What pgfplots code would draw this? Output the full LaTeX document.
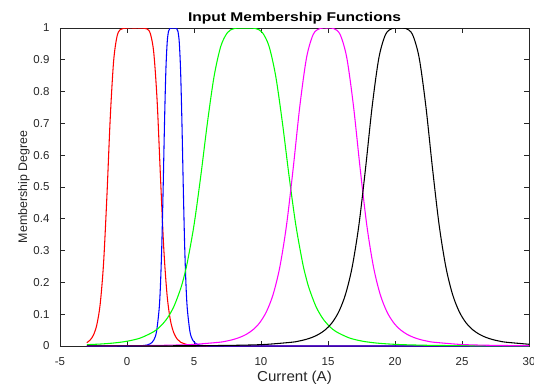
\documentclass[border=0pt]{standalone}
\usepackage{graphicx}
\usepackage{fontspec}
\setmainfont{Liberation Sans}
\usepackage{pgfplots}
\pgfplotsset{compat=1.18}
\definecolor{axgray}{HTML}{262626}
\definecolor{mfred}{rgb}{1,0,0}
\definecolor{mfblue}{rgb}{0,0,1}
\definecolor{mfgreen}{rgb}{0,1,0}
\definecolor{mfmagenta}{rgb}{1,0,1}
\definecolor{mfblack}{rgb}{0,0,0}

\begin{document}
\begin{tikzpicture}
\begin{axis}[
  name=ax,
  scale only axis,
  width=351.75pt, height=238.5pt,
  xmin=-5, xmax=30, ymin=0, ymax=1,
  xtick={-5,0,5,10,15,20,25,30},
  xticklabels={-5,0,5,10,15,20,25,30},
  ytick={0,0.1,0.2,0.3,0.4,0.5,0.6,0.7,0.8,0.9,1},
  yticklabels={0,0.1,0.2,0.3,0.4,0.5,0.6,0.7,0.8,0.9,1},
  tick align=inside,
  major tick length=3.75pt,
  tick style={axgray, line width=0.5pt},
  axis line style={axgray, line width=0.6pt},
  ticklabel style={font=\fontsize{8.6}{9.5}\selectfont, text=axgray},
  xticklabel style={anchor=north, yshift=-5.0pt},
  yticklabel style={anchor=east, xshift=-4.4pt},
  /pgf/number format/assume math mode=true,
  every axis title shift=0pt,
  title={\scalebox{1.23}[1]{\bfseries Input Membership Functions}},
  title style={at={(axis description cs:0.5,1.031)}, anchor=center,
    font=\fontsize{9.5}{11}\selectfont, text=black, inner sep=0pt},
  xlabel={\scalebox{1.05}[1]{Current (A)}},
  xlabel style={at={(axis description cs:0.5,-0.0985)}, anchor=center,
    font=\fontsize{10.8}{12}\selectfont, text=axgray, inner sep=0pt},
  ylabel={Membership Degree},
  ylabel style={at={(axis description cs:-0.0768,0.5)}, anchor=center,
    rotate=0, font=\fontsize{9.3}{11}\selectfont, text=axgray, inner sep=0pt},
  every axis plot/.append style={line width=0.8pt, smooth, mark=none},
]
% red set
\addplot[color=mfred] coordinates {
(-3,0.0105) (-2.75,0.0188) (-2.5,0.0348) (-2.25,0.0670) (-2,0.1323)
(-1.75,0.2596) (-1.5,0.4704) (-1.25,0.7175) (-1,0.8950) (-0.75,0.9726)
(-0.5,0.9951) (0,1.0000) (0.53,1) (1,1.0000) (1.5,0.9969) (1.75,0.9812)
(2,0.9215) (2.25,0.7697) (2.5,0.5302) (2.75,0.3026) (3,0.1560)
(3.25,0.0787) (3.5,0.0406) (3.75,0.0217) (4,0.0120) (4.5,0.0041)
(5,0.0016) (6,0.0003) (8,0) (30,0)
};
% blue set
\addplot[color=mfblue] coordinates {
(-3,0) (0,0.0001) (1,0.0008) (1.5,0.0032) (1.75,0.0073) (2,0.0188)
(2.2,0.0446) (2.4,0.1172) (2.5,0.1949) (2.6,0.3206) (2.7,0.5) (2.8,0.7023)
(2.9,0.8654) (3,0.9554) (3.1,0.9898) (3.2,0.9986) (3.45,1) (3.7,0.9986)
(3.8,0.9898) (3.9,0.9554) (4,0.8654) (4.1,0.7023) (4.2,0.5) (4.3,0.3206)
(4.4,0.1949) (4.5,0.1172) (4.7,0.0446) (4.9,0.0188) (5.15,0.0073)
(5.4,0.0032) (5.9,0.0008) (6.9,0.0001) (30,0)
};
% green set
\addplot[color=mfgreen] coordinates {
(-3,0.0042) (-2,0.0062) (-1,0.0094) (0,0.0150) (1,0.0252) (2,0.0452)
(2.5,0.0622) (3,0.0871) (3.5,0.1242) (4,0.1799) (4.25,0.2172)
(4.5,0.2624) (5,0.3800) (5.5,0.5328) (6,0.7015)
(6.5,0.8481) (7,0.9426) (7.5,0.9857) (8,0.9983) (8.8,1) (9.6,0.9983)
(10.1,0.9857) (10.6,0.9426) (11.1,0.8481) (11.6,0.7015) (12.1,0.5328)
(12.6,0.3800) (13.1,0.2624) (13.35,0.2172) (13.6,0.1799) (14.1,0.1242)
(14.6,0.0871) (15.1,0.0622) (15.6,0.0452)
(16.6,0.0252) (17.6,0.0150) (18.6,0.0094) (19.6,0.0062) (20.6,0.0042)
(22.6,0.0021) (24.6,0.0012) (26.6,0.0007) (28.6,0.0004) (30,0.0003)
};
% magenta set
\addplot[color=mfmagenta] coordinates {
(-3,0.0005) (0.9,0.0013) (2.9,0.0024) (4.9,0.0049) (6.9,0.0119)
(7.4,0.0153) (7.9,0.0201) (8.4,0.0269) (8.9,0.0367) (9.4,0.0511)
(9.9,0.0731) (10.4,0.1074) (10.9,0.1615)
(11.4,0.2474) (11.9,0.3784) (12.4,0.5580) (12.9,0.7550) (13.4,0.9069)
(13.9,0.9801) (14.4,0.9987) (14.9,1) (15.4,0.9987) (15.9,0.9801)
(16.4,0.9069) (16.9,0.7550) (17.4,0.5580) (17.9,0.3784) (18.4,0.2474)
(18.9,0.1615) (19.4,0.1074) (19.9,0.0731) (20.4,0.0511) (20.9,0.0367)
(21.4,0.0269) (21.9,0.0201) (22.4,0.0153)
(22.9,0.0119) (24.9,0.0049) (26.9,0.0024) (28.9,0.0013) (30,0.0010)
};
% black set
\addplot[color=mfblack] coordinates {
(-3,0.0002) (4.3,0.0008) (6.3,0.0013) (8.3,0.0024) (10.3,0.0049)
(12.3,0.0119) (12.8,0.0153) (13.3,0.0201) (13.8,0.0269) (14.3,0.0367)
(14.8,0.0511) (15.3,0.0731) (15.8,0.1074)
(16.3,0.1615) (16.8,0.2474) (17.3,0.3784) (17.8,0.5580) (18.3,0.7550)
(18.8,0.9069) (19.3,0.9801) (19.8,0.9987) (20.3,1) (20.8,0.9987)
(21.3,0.9801) (21.8,0.9069) (22.3,0.7550) (22.8,0.5580) (23.3,0.3784)
(23.8,0.2474) (24.3,0.1615) (24.8,0.1074) (25.3,0.0731) (25.8,0.0511)
(26.3,0.0367) (26.8,0.0269) (27.3,0.0201) (27.8,0.0153)
(28.3,0.0119) (30,0.0055)
};
\end{axis}
\pgfresetboundingbox
\path ([xshift=-45pt,yshift=-30.75pt]ax.south west) rectangle ([xshift=3.75pt,yshift=21pt]ax.north east);
\end{tikzpicture}
\end{document}
